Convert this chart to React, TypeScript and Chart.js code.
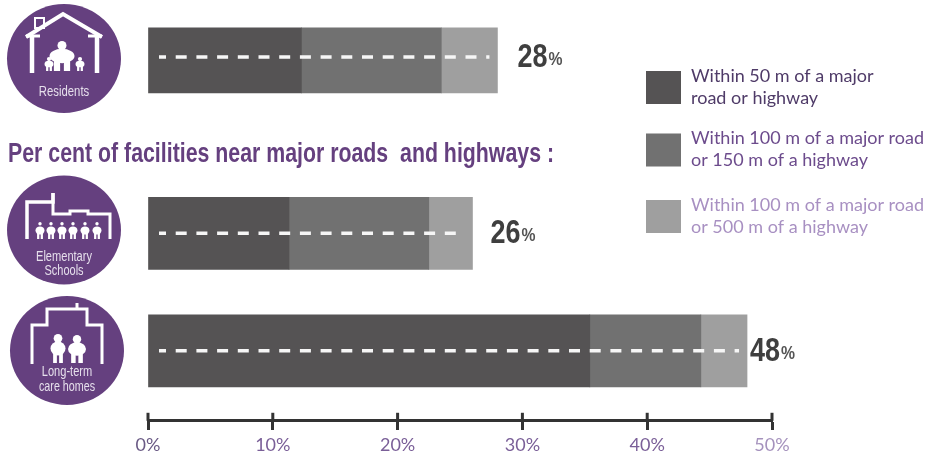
import React, { useEffect, useRef } from "react";
import { Chart, registerables } from "chart.js";

Chart.register(...registerables);

// Blank rows keep the heading's gap between the residents bar and the facility bars.
const categories = ["Residents", "", "", "Elementary Schools", "", "Long-term care homes", ""];
const within50m = [12.3, null, null, 11.3, null, 35.4, null];
const within100or150m = [11.2, null, null, 11.2, null, 8.9, null];
const within100or500m = [4.5, null, null, 3.5, null, 3.7, null];
const xTicks = [0, 10, 20, 30, 40, 50];
const legendLines = [
  ["Within 50 m of a major", "road or highway"],
  ["Within 100 m of a major road", "or 150 m of a highway"],
  ["Within 100 m of a major road", "or 500 m of a highway"],
];
const heading = "Per cent of facilities near major roads  and highways :";

const SANS = '"Liberation Sans", sans-serif';
const PURPLE = "#65407f";
const BAR_COLORS = ["#555354", "#717171", "#9f9f9f"];
const LEGEND_TEXT = ["#4f3b68", "#6c4b8c", "#a890c2"];
const TICK_COLORS = ["#6a5a85", "#7a5f98", "#7a5f98", "#7a5f98", "#7a5f98", "#a592bd"];
const AXIS_ROW = 6.19;

type Ctx = CanvasRenderingContext2D;

function polyline(ctx: Ctx, pts: number[][], width: number) {
  ctx.lineWidth = width;
  ctx.lineJoin = "miter";
  ctx.beginPath();
  pts.forEach(([x, y], i) => (i ? ctx.lineTo(x, y) : ctx.moveTo(x, y)));
  ctx.stroke();
}

function person(ctx: Ctx, x: number, top: number, h: number, wide: number, headScale = 0.15) {
  const head = h * headScale;
  ctx.beginPath();
  ctx.arc(x, top + head, head, 0, Math.PI * 2);
  ctx.fill();
  ctx.beginPath();
  ctx.ellipse(x, top + h * 0.5, wide, h * 0.24, 0, 0, Math.PI * 2);
  ctx.fill();
  ctx.fillRect(x - wide * 0.65, top + h * 0.6, wide * 0.5, h * 0.4);
  ctx.fillRect(x + wide * 0.15, top + h * 0.6, wide * 0.5, h * 0.4);
}

function badge(ctx: Ctx, cx: number, cy: number, lines: string[], ys: number[]) {
  ctx.fillStyle = PURPLE;
  ctx.beginPath();
  ctx.ellipse(cx, cy, 57, 54.5, 0, 0, Math.PI * 2);
  ctx.fill();
  ctx.fillStyle = "#e6dfec";
  ctx.font = `14.5px ${SANS}`;
  ctx.textAlign = "center";
  ctx.textBaseline = "middle";
  lines.forEach((t, i) => ctx.fillText(t, cx, ys[i], t.length * 5.6));
  ctx.strokeStyle = "#ffffff";
  ctx.fillStyle = "#ffffff";
}

function drawBadges(ctx: Ctx) {
  badge(ctx, 64, 58.5, ["Residents"], [92]);
  polyline(ctx, [[26, 37], [63, 14], [102, 37]], 4);
  polyline(ctx, [[26, 36], [40, 36]], 3);
  polyline(ctx, [[88, 36], [102, 36]], 3);
  polyline(ctx, [[32, 36], [32, 73]], 4.5);
  polyline(ctx, [[97, 36], [97, 73]], 4.5);
  ctx.lineWidth = 2;
  ctx.strokeRect(35, 18, 9, 10);
  person(ctx, 62, 41, 30, 12.5);
  person(ctx, 49, 57, 14, 4.5);
  person(ctx, 80, 57, 14, 4.5);

  badge(ctx, 64, 230, ["Elementary", "Schools"], [257, 271]);
  polyline(ctx, [[27, 239], [27, 202], [53, 202], [53, 193]], 3.5);
  polyline(ctx, [[53, 193], [53, 214], [70, 214], [70, 211], [88, 211], [88, 214], [110, 214], [110, 239]], 3);
  [40, 51, 62, 73, 85, 97].forEach((x) => person(ctx, x, 222, 17, 4.5, 0.1));

  badge(ctx, 67, 350.5, ["Long-term", "care homes"], [372, 387]);
  polyline(ctx, [[32, 364], [32, 325], [47, 325], [47, 309], [87, 309], [87, 325], [102, 325], [102, 364]], 3);
  polyline(ctx, [[77, 309], [77, 303]], 3);
  person(ctx, 58, 334, 29, 7.5);
  person(ctx, 77, 335, 28, 9);
}

function drawLegend(ctx: Ctx) {
  const rows = [71, 133.5, 200];
  ctx.textAlign = "left";
  ctx.textBaseline = "middle";
  ctx.font = '18px Lato, "Noto Sans", sans-serif';
  rows.forEach((top, i) => {
    ctx.fillStyle = BAR_COLORS[i];
    ctx.fillRect(646, top, 35, 33);
    ctx.fillStyle = LEGEND_TEXT[i];
    ctx.fillText(legendLines[i][0], 691, top + 5, 235);
    ctx.fillText(legendLines[i][1], 691, top + 27, 235);
  });
}

// Everything around the bars that the scales do not draw on their own.
const decorations = {
  id: "decorations",
  afterDatasetsDraw(chart: Chart) {
    const ctx = chart.ctx as Ctx;
    const { x: xScale, y: yScale } = chart.scales;
    ctx.save();
    drawBadges(ctx);
    drawLegend(ctx);

    ctx.fillStyle = PURPLE;
    ctx.font = `bold 27px ${SANS}`;
    ctx.textAlign = "left";
    ctx.textBaseline = "middle";
    ctx.fillText(heading, 8, 155, 546);

    // Road markings and totals, taken from the stacked bar geometry.
    const gaps: Record<number, number> = { 0: 20, 3: 18, 5: 3 };
    const top = chart.getDatasetMeta(2).data;
    categories.forEach((_, i) => {
      const total = chart.data.datasets.reduce((sum, ds) => sum + ((ds.data[i] as number) ?? 0), 0);
      if (!total) return;
      const y = top[i].y;
      const end = xScale.getPixelForValue(total);
      ctx.strokeStyle = "#f6f6f6";
      ctx.lineWidth = 3.5;
      ctx.setLineDash([11, 9.7]);
      ctx.lineDashOffset = 4;
      ctx.beginPath();
      ctx.moveTo(xScale.getPixelForValue(0) + 11, y);
      ctx.lineTo(end - 8, y);
      ctx.stroke();
      ctx.setLineDash([]);

      const rounded = String(Math.round(total));
      const labelX = end + gaps[i];
      ctx.fillStyle = "#3f3f3f";
      ctx.font = `bold 33px ${SANS}`;
      ctx.textAlign = "left";
      ctx.textBaseline = "middle";
      ctx.fillText(rounded, labelX, y + 1, 30);
      ctx.font = `bold 18px ${SANS}`;
      ctx.fillStyle = "#555555";
      ctx.fillText("%", labelX + 31, y + 3, 14);
    });

    // Upper half of the axis ticks, which cross the axis line.
    const axisY = yScale.getPixelForValue(AXIS_ROW);
    ctx.strokeStyle = "#333333";
    ctx.lineWidth = 3;
    xTicks.forEach((v) => {
      const px = xScale.getPixelForValue(v);
      ctx.beginPath();
      ctx.moveTo(px, axisY - 8);
      ctx.lineTo(px, axisY);
      ctx.stroke();
    });
    ctx.restore();
  },
};

export default function App() {
  const ref = useRef<HTMLCanvasElement>(null);

  useEffect(() => {
    const series = [within50m, within100or150m, within100or500m];
    const chart = new Chart(ref.current!, {
      type: "bar",
      data: {
        labels: categories,
        datasets: series.map((data, i) => ({
          label: legendLines[i].join(" "),
          data,
          backgroundColor: BAR_COLORS[i],
          borderWidth: 0,
          barThickness: 72,
        })),
      },
      options: {
        indexAxis: "y",
        responsive: false,
        animation: false,
        layout: { padding: { left: 148, right: 156, top: 27.6, bottom: 15 } },
        plugins: { legend: { display: false }, tooltip: { enabled: false } },
        scales: {
          y: { stacked: true, display: false, grid: { display: false } },
          x: {
            stacked: true,
            min: 0,
            max: 50,
            position: { y: AXIS_ROW },
            border: { display: true, color: "#333333", width: 3 },
            grid: {
              drawOnChartArea: false,
              drawTicks: true,
              tickLength: 8,
              tickWidth: 3,
              tickColor: "#333333",
            },
            afterBuildTicks: (axis) => {
              axis.ticks = xTicks.map((value) => ({ value }));
            },
            ticks: {
              padding: 6,
              maxRotation: 0,
              autoSkip: false,
              color: (c) => TICK_COLORS[c.index] ?? TICK_COLORS[1],
              font: { family: 'Lato, "Noto Sans", sans-serif', size: 18 },
              callback: (v) => `${v}%`,
            },
          },
        },
      },
      plugins: [decorations],
    });
    return () => chart.destroy();
  }, []);

  return (
    <div style={{ position: "absolute", left: 0, top: 0, width: 928, height: 454, background: "#fff" }}>
      <canvas ref={ref} width={928} height={454} style={{ display: "block" }} />
    </div>
  );
}
